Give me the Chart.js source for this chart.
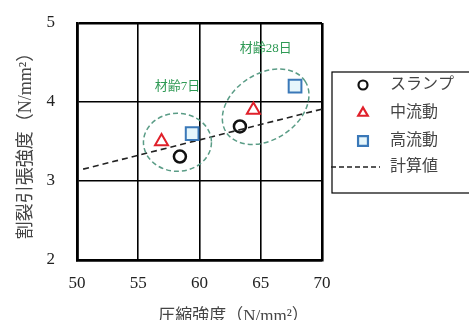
<!DOCTYPE html>
<html>
<head>
<meta charset="utf-8">
<script src="https://cdn.jsdelivr.net/npm/chart.js@4"></script>
<style>
  html, body { margin: 0; padding: 0; background: #fff; }
</style>
</head>
<body>
<canvas id="chart" width="469" height="320"></canvas>
<script>
  // values
  var seriesNames = ['スランプ', '中流動', '高流動', '計算値'];
  var slumpX = [58.4, 63.3];
  var slumpY = [3.31, 3.69];
  var midX = [56.9, 64.4];
  var midY = [3.50, 3.90];
  var highX = [59.4, 67.8];
  var highY = [3.60, 4.20];
  var calcX = [50.5, 70];
  var calcY = [3.15, 3.91];
  var xTicks = [50, 55, 60, 65, 70];
  var yTicks = [2, 3, 4, 5];
  var ageLabels = ['材齢7日', '材齢28日'];
  var ageCenterX = [58.2, 65.4];
  var ageCenterY = [3.49, 3.94];

  function pts(xs, ys) {
    return xs.map(function (x, i) { return { x: x, y: ys[i] }; });
  }

  var serif = 'Liberation Serif, "Noto Sans CJK JP", serif';
  var green = '#2f9a55';

  // dashed ellipses + age labels (pixel radii, data-space centres)
  var groupShapes = [
    { rx: 34, ry: 29, rot: 0, labelDx: 0, labelDy: -56 },
    { rx: 47, ry: 33, rot: -33, labelDx: 0, labelDy: -58 }
  ];

  var groupPlugin = {
    id: 'groups',
    afterDatasetsDraw: function (chart) {
      var ctx = chart.ctx, xs = chart.scales.x, ys = chart.scales.y;
      ctx.save();
      groupShapes.forEach(function (g, i) {
        var cx = xs.getPixelForValue(ageCenterX[i]);
        var cy = ys.getPixelForValue(ageCenterY[i]);
        ctx.beginPath();
        ctx.setLineDash([5, 3]);
        ctx.strokeStyle = '#5a9c86';
        ctx.lineWidth = 1.5;
        ctx.ellipse(cx, cy, g.rx, g.ry, g.rot * Math.PI / 180, 0, Math.PI * 2);
        ctx.stroke();
        ctx.setLineDash([]);
        ctx.fillStyle = green;
        ctx.font = '13px ' + serif;
        ctx.textAlign = 'center';
        ctx.textBaseline = 'middle';
        ctx.fillText(ageLabels[i], cx + g.labelDx, cy + g.labelDy);
      });
      ctx.restore();
    }
  };

  var legendPlugin = {
    id: 'boxLegend',
    afterDraw: function (chart) {
      var ctx = chart.ctx;
      var left = 332, top = 72, bottom = 193;
      ctx.save();
      ctx.fillStyle = '#fff';
      ctx.fillRect(left, top, 200, bottom - top);
      ctx.strokeStyle = '#000';
      ctx.lineWidth = 1.2;
      ctx.strokeRect(left, top, 200, bottom - top);
      var rows = [85, 113, 141, 167];
      chart.data.datasets.forEach(function (ds, i) {
        var y = rows[i];
        if (ds.type === 'line') {
          ctx.beginPath();
          ctx.setLineDash([5, 3]);
          ctx.strokeStyle = ds.borderColor;
          ctx.lineWidth = 1.5;
          ctx.moveTo(331, y);
          ctx.lineTo(380, y);
          ctx.stroke();
          ctx.setLineDash([]);
        } else {
          ctx.strokeStyle = ds.borderColor;
          ctx.fillStyle = ds.backgroundColor;
          ctx.lineWidth = 2.2;
          Chart.helpers.drawPoint(ctx, {
            pointStyle: ds.pointStyle,
            radius: ds.legendRadius,
            rotation: 0,
            borderWidth: 2.2
          }, 363, y);
        }
        ctx.fillStyle = '#444';
        ctx.font = '16px ' + serif;
        ctx.textAlign = 'left';
        ctx.textBaseline = 'middle';
        ctx.fillText(ds.label, 390, y);
      });
      ctx.restore();
    }
  };

  function edgeWidth(ctx) {
    var s = ctx.scale;
    return (ctx.tick && (ctx.tick.value === s.max || ctx.tick.value === s.min)) ? 2.6 : 1.6;
  }

  var ctx = document.getElementById('chart').getContext('2d');
  window.myChart = new Chart(ctx, {
    type: 'scatter',
    data: {
      datasets: [
        {
          label: seriesNames[0],
          data: pts(slumpX, slumpY),
          pointStyle: 'circle',
          pointRadius: 6,
          pointBorderWidth: 2.5,
          borderColor: '#111',
          backgroundColor: 'rgba(255,255,255,0)',
          legendRadius: 4.5
        },
        {
          label: seriesNames[1],
          data: pts(midX, midY),
          pointStyle: 'triangle',
          pointRadius: 7.5,
          pointBorderWidth: 2,
          borderColor: '#e0202a',
          backgroundColor: 'rgba(255,255,255,0)',
          legendRadius: 5.5
        },
        {
          label: seriesNames[2],
          data: pts(highX, highY),
          pointStyle: 'rect',
          pointRadius: 9,
          pointBorderWidth: 2,
          borderColor: '#3a78b8',
          backgroundColor: '#e6f6fb',
          legendRadius: 7
        },
        {
          type: 'line',
          label: seriesNames[3],
          data: pts(calcX, calcY),
          borderColor: '#222',
          borderWidth: 1.6,
          borderDash: [6, 4],
          pointRadius: 0,
          fill: false
        }
      ]
    },
    options: {
      responsive: false,
      animation: false,
      devicePixelRatio: 1,
      layout: { padding: { top: 23, right: 147, left: 0, bottom: 0 } },
      plugins: {
        legend: { display: false },
        tooltip: { enabled: false }
      },
      scales: {
        x: {
          type: 'linear',
          min: xTicks[0],
          max: xTicks[xTicks.length - 1],
          afterBuildTicks: function (s) { s.ticks = xTicks.map(function (v) { return { value: v }; }); },
          afterFit: function (s) { s.height = 60; },
          grid: { color: '#000', lineWidth: edgeWidth, drawTicks: false },
          border: { color: '#000', width: 2.6 },
          ticks: { color: '#222', padding: 13, maxRotation: 0, font: { family: serif, size: 17 } },
          title: {
            display: true,
            text: '　　　　圧縮強度（N/mm²）',
            color: '#444',
            font: { family: serif, size: 17 },
            padding: { top: 0, bottom: -7 }
          }
        },
        y: {
          type: 'linear',
          min: yTicks[0],
          max: yTicks[yTicks.length - 1],
          afterBuildTicks: function (s) { s.ticks = yTicks.map(function (v) { return { value: v }; }); },
          afterFit: function (s) {
            s.width = 77;
            s.paddingTop = 0;
            s.paddingBottom = 0;
          },
          grid: { color: '#000', lineWidth: edgeWidth, drawTicks: false },
          border: { color: '#000', width: 2.6 },
          ticks: { color: '#222', padding: 22, font: { family: serif, size: 17 } },
          title: {
            display: true,
            text: '割裂引張強度（N/mm²）',
            color: '#444',
            font: { family: serif, size: 18 },
            padding: { top: 15, bottom: 0 }
          }
        }
      }
    },
    plugins: [groupPlugin, legendPlugin]
  });
</script>
</body>
</html>
